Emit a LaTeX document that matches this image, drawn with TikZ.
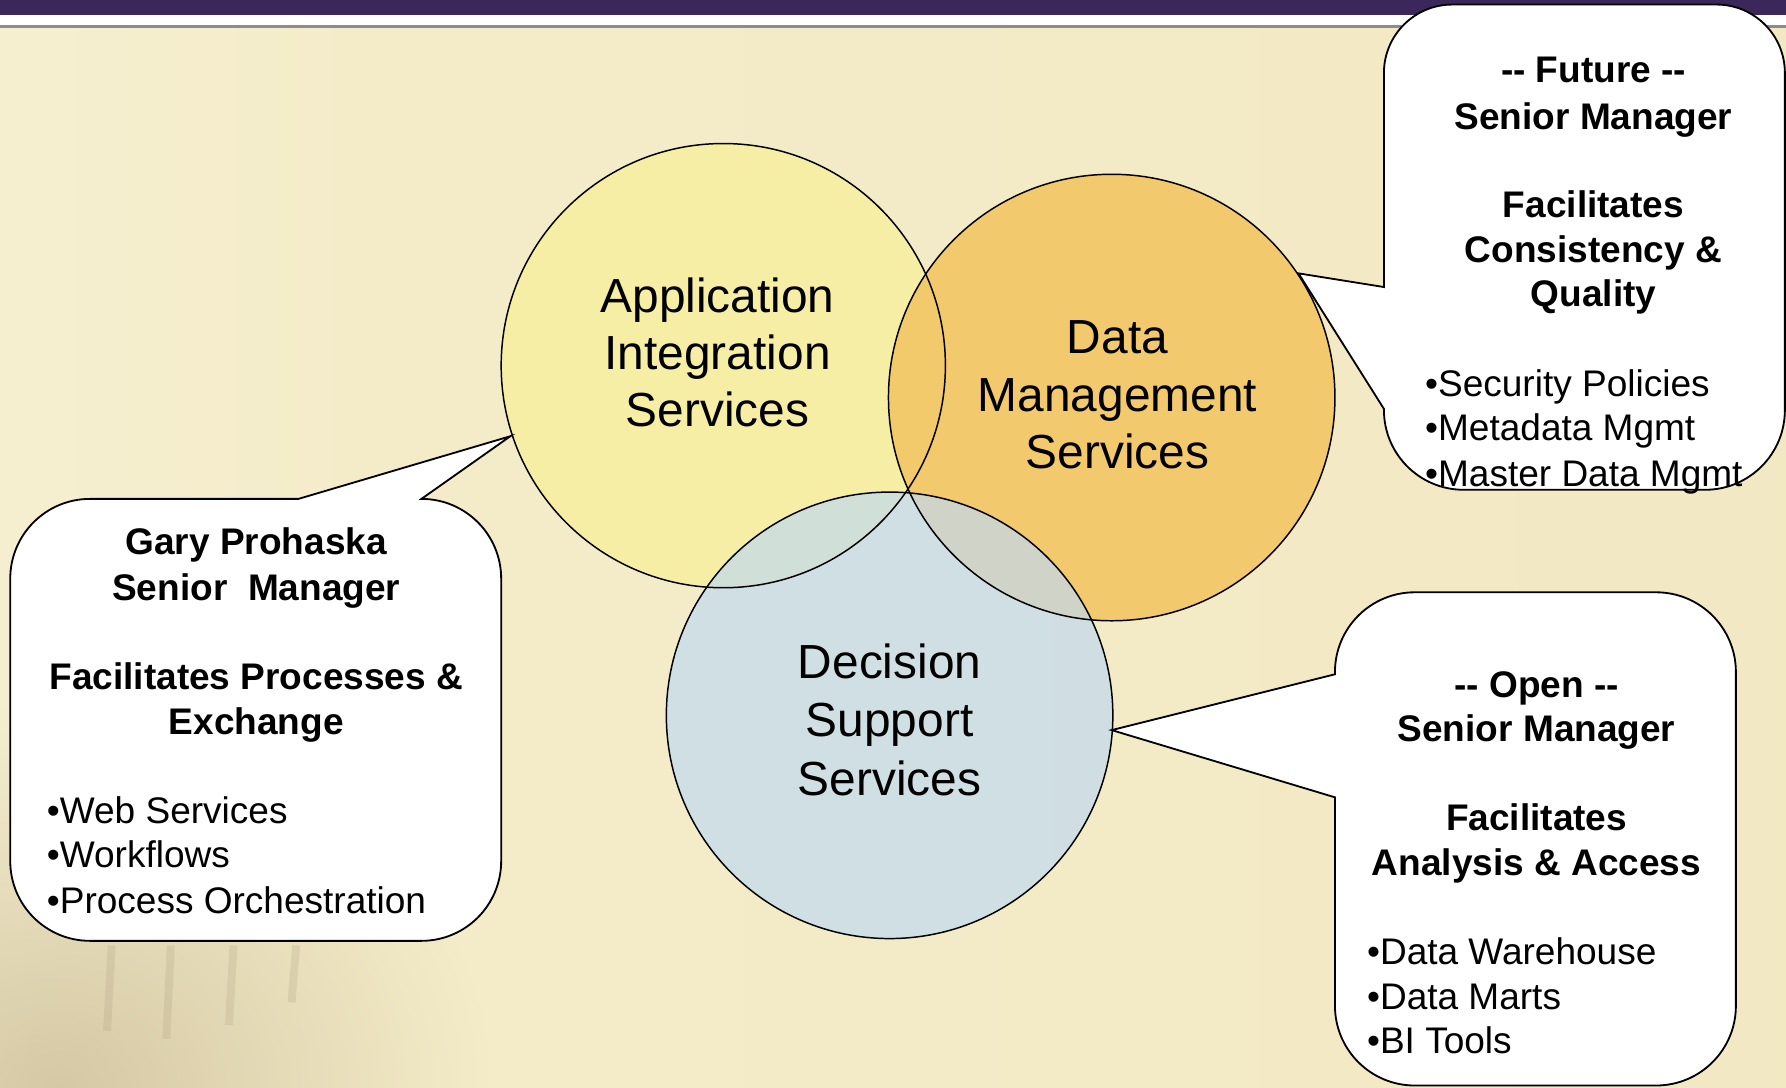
\documentclass[tikz,border=0pt]{standalone}
\usepackage{fontspec}
\setmainfont{Liberation Sans}
\usetikzlibrary{fadings}
\definecolor{barpurple}{HTML}{3B2759}
\definecolor{bgA}{HTML}{FBF3E2}
\definecolor{bgB}{HTML}{F8F4DC}
\definecolor{bgC}{HTML}{F4ECC9}
\definecolor{bgD}{HTML}{F1E7C0}
\definecolor{fillA}{HTML}{F7EEA6}
\definecolor{fillD}{HTML}{F3C766}
\definecolor{fillS}{HTML}{C2DAF0}
\definecolor{bldg}{HTML}{C4B38C}
\pgfdeclarehorizontalshading{bgshade}{100bp}{color(0bp)=(bgA); color(8bp)=(bgB); color(35bp)=(bgC); color(100bp)=(bgD)}
\tikzfading[name=bfade, inner color=transparent!20, outer color=transparent!100]
\begin{document}
\begin{tikzpicture}[x=1pt,y=-1pt,
  circline/.style={draw=black, line width=1.3pt},
  callout/.style={draw=black, fill=white, line width=1.6pt, line join=miter},
  ctext/.style={font=\fontsize{42}{50}\selectfont, anchor=base, inner sep=0pt},
  btext/.style={font=\fontsize{32.5}{39.5}\selectfont\bfseries, anchor=base, inner sep=0pt},
  ltext/.style={font=\fontsize{32.5}{39.5}\selectfont, anchor=base west, inner sep=0pt}]
\useasboundingbox (0,0) rectangle (1568,955);
% background
\shade[shading=bgshade] (0,24) rectangle (1568,955);
\fill[barpurple] (0,0) rectangle (1568,13);
\fill[white] (0,13) rectangle (1568,22);
\fill[black!45] (0,22) rectangle (1568,24.5);
% faint building in the lower left
\begin{scope}
  \clip (0,25) rectangle (1568,955);
  \fill[bldg, path fading=bfade, opacity=0.8] (-330,620) rectangle (430,1300);
  \foreach \xx/\yy in {98/905,150/912,205/900,260/880}{
    \draw[bldg!80!black, line width=7pt, opacity=0.18] (\xx,830) -- (\xx-4,\yy);
  }
\end{scope}
% circle centres
\coordinate (cA) at (635,321);
\coordinate (cD) at (976,349);
\coordinate (cS) at (781,628);
% fills
\fill[fillA] (cA) circle[radius=195];
\fill[fillD, opacity=0.92] (cD) circle[radius=196];
\fill[fillS, opacity=0.7] (cS) circle[radius=196];
% outlines
\draw[circline] (cA) circle[radius=195];
\draw[circline] (cD) circle[radius=196];
\draw[circline] (cS) circle[radius=196];
% circle texts
\node[ctext] (a1) at (630,274) {Application};
\node[ctext] (a2) at (630,324) {Integration};
\node[ctext] (a3) at (630,374) {Services};
\node[ctext] (d1) at (981,310) {Data};
\node[ctext] (d2) at (981,361) {Management};
\node[ctext] (d3) at (981,411) {Services};
\node[ctext] (s1) at (781,596) {Decision};
\node[ctext] (s2) at (781,647) {Support};
\node[ctext] (s3) at (781,698) {Services};
% callout tips
\coordinate (tipL) at (448,383);
\coordinate (tipTR) at (1140,240);
\coordinate (tipBR) at (976,641);
% left callout
\draw[callout] (79,438) -- (262,438) -- (tipL) -- (370,438)
  arc[start angle=270,end angle=360,radius=70] -- (440,756)
  arc[start angle=0,end angle=90,radius=70] -- (79,826)
  arc[start angle=90,end angle=180,radius=70] -- (9,508)
  arc[start angle=180,end angle=270,radius=70] -- cycle;
% top right callout
\draw[callout] (1275,4) -- (1507,4)
  arc[start angle=270,end angle=360,radius=60] -- (1567,360)
  arc[start angle=0,end angle=90,radius=70] -- (1285,430)
  arc[start angle=90,end angle=180,radius=70] -- (1215,359) -- (tipTR) -- (1215,252) -- (1215,64)
  arc[start angle=180,end angle=270,radius=60] -- cycle;
% bottom right callout
\draw[callout] (1242,520) -- (1454,520)
  arc[start angle=270,end angle=360,radius=70] -- (1524,883)
  arc[start angle=0,end angle=90,radius=70] -- (1242,953)
  arc[start angle=90,end angle=180,radius=70] -- (1172,700) -- (tipBR) -- (1172,592) -- (1172,590)
  arc[start angle=180,end angle=270,radius=70] -- cycle;
% left callout text
\node[btext] (l1) at (225,487) {Gary Prohaska};
\node[btext] (l2) at (225,527) {Senior~ Manager};
\node[btext] (l3) at (225,605) {Facilitates Processes \&};
\node[btext] (l4) at (225,645) {Exchange};
\node[ltext] (l5) at (41,723) {•Web Services};
\node[ltext] (l6) at (41,762) {•Workflows};
\node[ltext] (l7) at (41,802) {•Process Orchestration};
% top right callout text
\node[btext] (t1) at (1399,72.5) {-{}- Future -{}-};
\node[btext] (t2) at (1399,113.5) {Senior Manager};
\node[btext] (t3) at (1399,191) {Facilitates};
\node[btext] (t4) at (1399,230.5) {Consistency \&};
\node[btext] (t5) at (1399,269) {Quality};
\node[ltext] (t6) at (1251,348) {•Security Policies};
\node[ltext] (t7) at (1251,387) {•Metadata Mgmt};
\node[ltext] (t8) at (1251,427) {•Master Data Mgmt};
% bottom right callout text
\node[btext] (r1) at (1349,612) {-{}- Open -{}-};
\node[btext] (r2) at (1349,651) {Senior Manager};
\node[btext] (r3) at (1349,729) {Facilitates};
\node[btext] (r4) at (1349,769) {Analysis \& Access};
\node[ltext] (r5) at (1200,847) {•Data Warehouse};
\node[ltext] (r6) at (1200,886) {•Data Marts};
\node[ltext] (r7) at (1200,925) {•BI Tools};
\end{tikzpicture}
\end{document}
